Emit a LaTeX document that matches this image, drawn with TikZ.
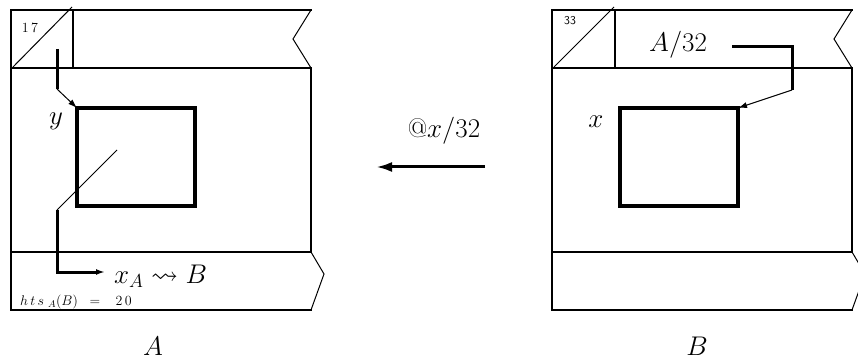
\RequirePackage{fix-cm}
\documentclass[tikz,border=0pt]{standalone}
\usepackage{amssymb}
\usetikzlibrary{arrows.meta}
\begin{document}
\begin{tikzpicture}[x=1pt,y=-1pt,
  frame/.style={line width=2.6pt, line join=miter, line cap=rect},
  thin/.style={line width=1pt},
  sq/.style={draw, line width=4.4pt, minimum width=118pt, minimum height=98pt, inner sep=0pt, outer sep=0pt},
  conn/.style={line width=3pt},
  tip/.style={-{Latex[length=9pt,width=6pt]}},
  bigtip/.style={-{Latex[length=16pt,width=10pt]}},
  big/.style={font=\fontsize{27}{30}\selectfont, inner sep=0pt},
  small/.style={font=\fontsize{14}{16}\selectfont, inner sep=0pt}]
\useasboundingbox (0,0) rectangle (858,363);

% ---------- panel A ----------
\draw[frame] (311,10) -- (11,10) -- (11,310) -- (311,310);
\draw[frame] (11,68) -- (311,68) -- (311,252) -- (11,252);
\draw[frame] (73,10) -- (73,68);
\draw[thin] (13,67) -- (72,7);
\draw[thin] (311,10) -- (293,39) -- (311,68);
\draw[thin] (311,252) -- (324,274) -- (311,310);
\node[font=\fontsize{14}{16}\selectfont, inner sep=0pt] (n17) at (30,28) {1\,7};
\node[sq] (sqA) at (136,157) {};
\coordinate (ya) at (57,49);
\coordinate (yb) at (57,89);
\draw[conn] (ya) -- (yb);
\draw[thin, tip] (yb) -- (sqA.north west);
\node[big] (ylab) at (56,121) {$y$};
\coordinate (da) at (117,150);
\coordinate (db) at (57,210);
\draw[thin] (da) -- (db);
\node[big, anchor=base west] (xlab) at (114,283) {$x_A\leadsto B$};
\coordinate (xarr) at (105,272);
\draw[conn, tip] (db) |- (xarr);
\node[small, anchor=base west] (hts) at (20,305) {$h\,t\,s\;{}_A(B)\;\;=\;\;\;2\,0$};
\node[big] (labA) at (153,346) {$A$};

% ---------- panel B ----------
\draw[frame] (852,10) -- (552,10) -- (552,310) -- (852,310);
\draw[frame] (552,68) -- (852,68) -- (852,252) -- (552,252);
\draw[frame] (615,10) -- (615,68);
\draw[thin] (554,67) -- (614,7);
\draw[thin] (852,10) -- (834,39) -- (852,68);
\draw[thin] (852,252) -- (865,274) -- (852,310);
\node[font=\sffamily\fontsize{12}{14}\selectfont, inner sep=0pt] (n33) at (570,21) {33};
\node[sq] (sqB) at (679,157) {};
\node[big] (xl) at (596,122) {$x$};
\node[big, anchor=base west] (a32) at (649,52) {$A/32$};
\coordinate (as) at (732,47);
\coordinate (bk) at (792,90);
\draw[conn] (as) -| (bk);
\draw[thin, tip] (bk) -- (sqB.north east);
\node[big] (labB) at (697,346) {$B$};

% ---------- middle ----------
\node[big, anchor=base] (mid) at (444,138) {@$x/32$};
\coordinate (ms) at (485,167);
\coordinate (me) at (376,167);
\draw[conn, bigtip] (ms) -- (me);
\end{tikzpicture}
\end{document}
